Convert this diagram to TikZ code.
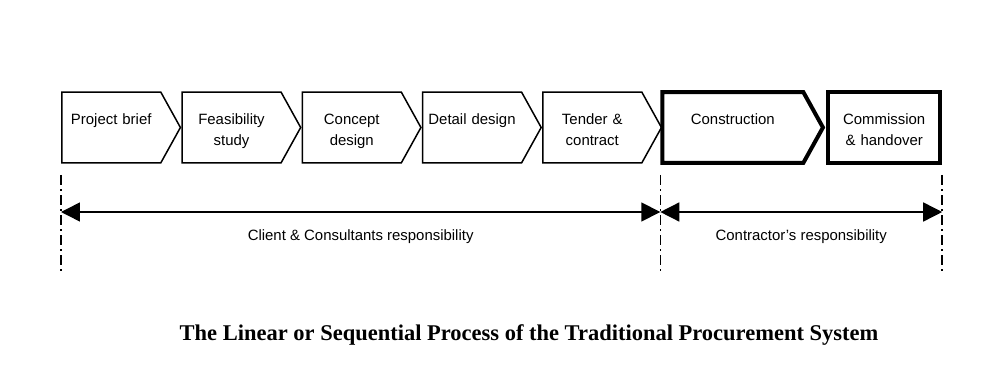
\documentclass[tikz,border=0pt]{standalone}
\usepackage{fontspec}
\setmainfont{Liberation Serif}
\newfontfamily\boxfont{Liberation Sans}
\usepackage{tikz}
\usetikzlibrary{shapes.symbols, arrows.meta, positioning}

\begin{document}
\begin{tikzpicture}[
        x=0.02cm, y=-0.02cm,
        node distance=0cm,
        stagebox/.style={
            signal,
            signal to=east,
            signal pointer angle=122,
            draw=black,
            line width=0.03cm,
            fill=white,
            minimum width=2.2cm,
            text width=1.98cm,
            inner xsep=0pt,
            inner ysep=0pt,
            text height=0.65cm,
            text depth=0.77cm,
            align=center,
            font=\boxfont\fontsize{8.5pt}{11.9pt}\selectfont
        },
        sitebox/.style={
            stagebox,
            line width=0.08cm,
            minimum width=3cm,
            text width=2.82cm
        },
        endbox/.style={
            rectangle,
            draw=black,
            line width=0.08cm,
            minimum width=2.24cm,
            text width=2.24cm,
            inner xsep=0pt,
            inner ysep=0pt,
            text height=0.65cm,
            text depth=0.77cm,
            align=center,
            font=\boxfont\fontsize{8.5pt}{11.9pt}\selectfont
        },
        guide/.style={line width=0.03cm, dash pattern=on 5.7pt off 2.3pt on 1.1pt off 2.3pt},
        span/.style={{Triangle[length=0.38cm,width=0.38cm]}-{Triangle[length=0.38cm,width=0.38cm]}, line width=0.03cm},
        spanlabel/.style={font=\boxfont\fontsize{8.5pt}{11.9pt}\selectfont, yshift=-0.5cm}
    ]
    \useasboundingbox (0,0) rectangle (1000,374);

    \node (brief) [stagebox, anchor=west] at (61,127.5) {Project brief};
    \node (feasibility) [stagebox, right=of brief] {Feasibility\\study};
    \node (concept) [stagebox, right=of feasibility] {Concept\\design};
    \node (detail) [stagebox, right=of concept] {Detail design};
    \node (tender) [stagebox, right=of detail] {Tender \&\\contract};
    \node (construction) [sitebox, right=-0.04cm of tender] {Construction};
    \node (handover) [endbox, right=0.02cm of construction] {Commission\\\& handover};

    % split lines under the stages
    \foreach \n/\c in {brief.west/a, construction.west/b, handover.east/c} {
        \coordinate (\c top) at (\n |- 0,175);
        \coordinate (\c bot) at (\n |- 0,274);
        \coordinate (\c mid) at (\n |- 0,212);
        \draw [guide] (\c top) -- (\c bot);
    }

    \draw [span] (amid) -- (bmid) node (client) [midway, spanlabel] {Client \& Consultants responsibility};
    \draw [span] (bmid) -- (cmid) node (contractor) [midway, spanlabel] {Contractor’s responsibility};

    \node (title) at (529,335) [font=\bfseries\fontsize{12.8pt}{15pt}\selectfont] {The Linear or Sequential Process of the Traditional Procurement System};

\end{tikzpicture}
\end{document}
